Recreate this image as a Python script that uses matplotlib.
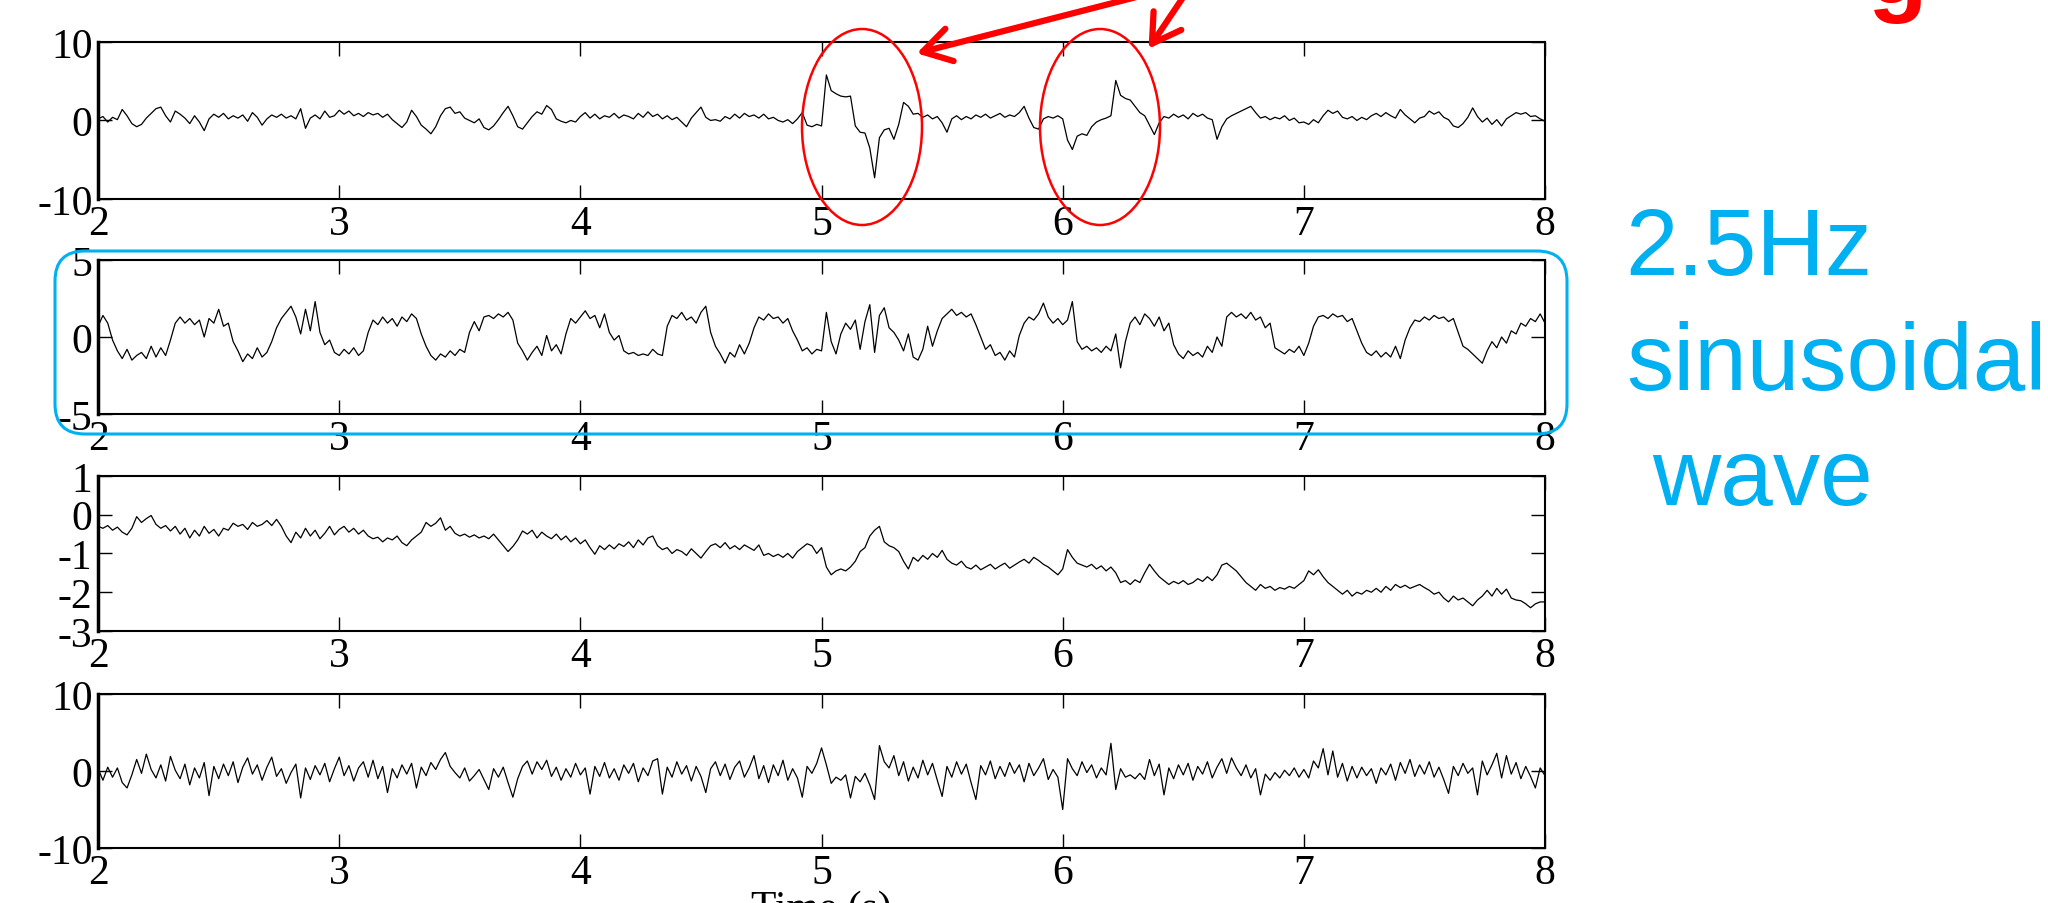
import matplotlib.pyplot as plt
import numpy as np
from matplotlib.patches import Ellipse, FancyBboxPatch, FancyArrowPatch

plt.rcParams['font.family'] = ['Liberation Serif', 'DejaVu Serif']
plt.rcParams['axes.unicode_minus'] = False

# samples every 0.02 s from t = 2 s to t = 8 s
t_start = 2.0
t_step = 0.02

sig1 = [
    0.2, 0.5, -0.2, 0.4, 0.1, 1.4, 0.6, -0.4, -0.8, -0.5, 0.3, 0.9, 1.5, 1.7, 0.6, -0.2, 1.2, 0.8, 0.3, -0.4, 0.6, -0.2, -1.3, 0.2, 0.8,
    0.4, 0.9, 0.2, 0.6, 0.3, 0.7, -0.1, 1.0, 0.4, -0.6, 0.2, 0.7, 0.4, 0.8, 0.3, 0.6, 0.2, 1.5, -1.0, 0.3, 0.7, 0.2, 1.2, 0.4, 0.6,
    1.3, 0.8, 1.2, 0.6, 0.9, 0.5, 1.0, 0.7, 0.9, 0.4, 0.8, 0.1, -0.4, -0.9, -0.2, 1.3, 0.5, -0.6, -1.1, -1.7, -0.8, 0.6, 1.5, 1.7, 0.9,
    1.1, 0.3, 0.0, -0.3, 0.2, -0.9, -1.2, -0.7, 0.1, 1.0, 1.8, 0.6, -0.8, -1.1, -0.3, 0.5, 1.1, 0.8, 1.9, 1.4, 0.2, -0.1, -0.3, 0.0, -0.2,
    0.5, 1.0, 0.3, 0.8, 0.2, 0.6, 0.4, 0.9, 0.3, 0.7, 0.5, 0.2, 0.9, 0.4, 1.1, 0.5, 0.8, 0.2, 0.6, 0.1, 0.4, -0.2, -0.8, 0.3, 1.0,
    1.7, 0.4, 0.0, 0.1, -0.1, 0.5, 0.2, 0.8, 0.3, 0.9, 0.5, 0.7, 0.3, 0.8, 0.2, 0.4, 0.0, -0.2, 0.1, -0.4, 0.2, 1.0, -0.6, -0.8, -0.5,
    -0.7, 5.8, 3.8, 3.4, 3.1, 3.0, 3.1, -0.7, -1.5, -1.6, -3.5, -7.3, -2.2, -1.2, -1.0, -2.4, -0.5, 2.3, 1.8, 0.8, 0.9, 0.4, 0.7, 0.2, 0.5,
    -0.3, -1.5, 0.2, 0.6, 0.1, 0.5, 0.2, 0.7, 0.4, 0.8, 0.3, 0.6, 0.9, 0.4, 0.7, 0.5, 1.0, 1.8, 0.3, -0.9, -1.1, 0.2, 0.5, 0.3, 0.6,
    0.2, -2.5, -3.7, -2.0, -1.7, -1.9, -0.8, -0.2, 0.1, 0.3, 0.6, 5.1, 3.2, 2.8, 2.6, 1.8, 1.0, 0.6, -0.6, -1.8, -0.3, 0.5, 0.3, 0.8, 0.4,
    0.7, 0.2, 0.9, 0.5, 0.8, 0.3, 0.1, -2.4, -0.8, 0.2, 0.6, 0.9, 1.2, 1.5, 1.8, 1.0, 0.3, 0.5, 0.1, 0.4, 0.2, 0.6, 0.0, 0.3, -0.3,
    -0.2, -0.5, 0.1, -0.3, 0.6, 1.3, 0.9, 1.2, 0.4, 0.2, 0.5, 0.0, 0.4, 0.1, 0.6, 0.9, 0.5, 1.0, 0.6, 0.3, 1.4, 0.7, 0.2, -0.3, 0.3,
    0.5, 1.2, 0.8, 1.1, 0.4, 0.1, -0.7, -0.9, -0.4, 0.4, 1.6, 0.5, -0.2, 0.3, -0.5, 0.1, -0.7, 0.2, 0.6, 1.0, 0.8, 1.0, 0.5, 0.6, 0.2,
    -0.1,
]

sig2 = [
    0.7, 1.4, 0.9, -0.2, -0.9, -1.4, -0.8, -1.5, -1.2, -1.0, -1.4, -0.6, -1.3, -0.7, -1.2, -0.2, 0.9, 1.3, 0.9, 1.2, 0.8, 1.1, 0.0, 1.2, 0.9,
    1.8, 0.7, 0.9, -0.3, -0.9, -1.6, -1.1, -1.4, -0.7, -1.3, -1.0, -0.3, 0.6, 1.2, 1.6, 2.0, 1.3, 0.2, 1.8, 0.4, 2.3, 0.3, -0.5, -0.2, -1.0,
    -1.2, -0.8, -1.1, -0.7, -1.2, -0.9, 0.3, 1.1, 0.8, 1.3, 0.9, 1.2, 0.7, 1.3, 1.0, 1.5, 1.2, 0.2, -0.6, -1.2, -1.5, -1.1, -1.3, -0.9, -1.2,
    -0.8, -1.0, 0.3, 1.0, 0.4, 1.3, 1.4, 1.2, 1.5, 1.3, 1.6, 1.1, -0.4, -0.9, -1.5, -1.0, -0.6, -1.2, 0.1, -0.9, -0.5, -1.1, 0.2, 1.2, 0.9,
    1.3, 1.7, 1.2, 1.4, 0.6, 1.5, 0.3, -0.2, 0.1, -0.9, -1.1, -1.0, -1.2, -1.1, -1.2, -0.8, -1.1, -1.2, 0.7, 1.4, 1.2, 1.6, 1.1, 1.3, 0.9,
    1.6, 2.0, 0.3, -0.6, -1.1, -1.7, -1.0, -1.3, -0.5, -1.1, -0.4, 0.6, 1.3, 1.1, 1.5, 1.2, 1.3, 0.9, 1.2, 0.4, -0.2, -0.9, -0.7, -1.1, -0.8,
    -0.9, 1.6, -0.3, -1.1, 0.2, 0.9, 0.5, 1.1, -0.8, 1.0, 2.1, -1.0, 1.4, 1.9, 0.6, 0.3, -0.2, -0.9, 0.2, -1.3, -1.5, -0.8, 0.7, -0.6, 0.4,
    1.2, 1.5, 1.8, 1.4, 1.6, 1.3, 1.5, 0.8, 0.0, -0.8, -0.5, -1.2, -1.0, -1.5, -0.9, -1.3, 0.1, 0.9, 1.3, 1.1, 1.5, 2.2, 1.3, 0.9, 1.2,
    0.8, 1.1, 2.3, -0.3, -0.8, -0.6, -0.9, -0.7, -1.0, -0.6, -0.9, 0.2, -2.0, -0.3, 0.9, 1.3, 0.8, 1.5, 1.2, 0.7, 1.3, 0.4, 0.9, -0.5, -1.1,
    -1.4, -0.9, -1.2, -1.0, -1.3, -0.6, -1.0, 0.0, -0.6, 1.3, 1.6, 1.3, 1.5, 1.2, 1.6, 1.1, 1.3, 0.6, 0.9, -0.7, -0.9, -1.1, -0.8, -1.0, -0.6,
    -1.2, -0.4, 0.7, 1.3, 1.4, 1.2, 1.5, 1.3, 1.4, 1.0, 1.2, 0.4, -0.4, -1.0, -1.2, -0.9, -1.3, -1.0, -1.3, -0.6, -1.4, -0.2, 0.6, 1.1, 1.0,
    1.3, 1.1, 1.4, 1.2, 1.3, 1.0, 1.2, 0.3, -0.6, -0.8, -1.1, -1.4, -1.7, -0.9, -0.3, -0.7, 0.0, -0.4, 0.4, 0.2, 0.9, 0.7, 1.2, 1.0, 1.5,
    0.9,
]

sig3 = [
    -0.30, -0.35, -0.28, -0.40, -0.32, -0.45, -0.52, -0.35, -0.05, -0.20, -0.10, -0.02, -0.25, -0.35, -0.28, -0.42, -0.30, -0.50, -0.35, -0.60, -0.40, -0.55, -0.30, -0.48, -0.38,
    -0.55, -0.35, -0.40, -0.22, -0.30, -0.25, -0.38, -0.20, -0.30, -0.25, -0.15, -0.28, -0.12, -0.30, -0.55, -0.72, -0.45, -0.60, -0.35, -0.55, -0.40, -0.62, -0.48, -0.30, -0.52,
    -0.38, -0.30, -0.45, -0.35, -0.50, -0.40, -0.55, -0.62, -0.58, -0.70, -0.60, -0.65, -0.55, -0.72, -0.80, -0.65, -0.55, -0.45, -0.20, -0.30, -0.22, -0.08, -0.40, -0.30, -0.48,
    -0.55, -0.50, -0.58, -0.52, -0.60, -0.55, -0.62, -0.50, -0.65, -0.80, -0.95, -0.82, -0.65, -0.42, -0.50, -0.40, -0.60, -0.45, -0.55, -0.62, -0.50, -0.65, -0.55, -0.70, -0.60,
    -0.75, -0.65, -0.85, -1.02, -0.80, -0.90, -0.78, -0.88, -0.75, -0.82, -0.70, -0.85, -0.65, -0.78, -0.60, -0.55, -0.80, -0.90, -0.85, -1.00, -0.90, -0.95, -1.05, -0.88, -1.00,
    -1.12, -0.95, -0.80, -0.75, -0.85, -0.72, -0.88, -0.80, -0.90, -0.78, -0.85, -0.92, -0.78, -1.05, -1.00, -1.08, -1.02, -1.10, -1.00, -1.12, -0.95, -0.85, -0.75, -0.80, -1.00,
    -0.85, -1.35, -1.55, -1.45, -1.40, -1.45, -1.35, -1.20, -0.95, -0.85, -0.55, -0.40, -0.30, -0.70, -0.80, -0.85, -0.95, -1.20, -1.40, -1.10, -1.20, -1.05, -1.15, -1.00, -1.10,
    -0.92, -1.15, -1.25, -1.30, -1.20, -1.35, -1.40, -1.30, -1.42, -1.35, -1.28, -1.40, -1.32, -1.25, -1.38, -1.30, -1.22, -1.15, -1.25, -1.10, -1.18, -1.28, -1.35, -1.45, -1.55,
    -1.40, -0.90, -1.10, -1.25, -1.30, -1.35, -1.28, -1.40, -1.32, -1.45, -1.35, -1.50, -1.75, -1.70, -1.80, -1.68, -1.75, -1.50, -1.28, -1.45, -1.60, -1.70, -1.80, -1.72, -1.78,
    -1.70, -1.80, -1.75, -1.65, -1.72, -1.60, -1.70, -1.55, -1.30, -1.25, -1.35, -1.45, -1.60, -1.75, -1.85, -1.95, -1.80, -1.90, -1.85, -1.95, -1.88, -1.92, -1.85, -1.90, -1.80,
    -1.70, -1.45, -1.55, -1.42, -1.60, -1.75, -1.85, -1.95, -2.05, -1.95, -2.10, -2.00, -2.05, -1.95, -2.00, -1.90, -2.00, -1.85, -1.95, -1.80, -1.88, -1.82, -1.90, -1.85, -1.80,
    -1.88, -1.95, -2.05, -2.00, -2.15, -2.25, -2.10, -2.20, -2.15, -2.25, -2.35, -2.20, -2.10, -1.95, -2.10, -1.90, -2.05, -1.92, -2.15, -2.20, -2.22, -2.30, -2.40, -2.30, -2.25,
    -2.25,
]

sig4 = [
    0.3, -1.2, 0.5, -0.8, 0.4, -1.5, -2.2, -0.5, 1.5, -0.3, 2.2, 0.2, -0.9, 0.8, -1.3, 1.9, 0.1, -1.0, 0.9, -1.8, 0.4, -0.9, 1.1, -3.2, 0.6,
    -1.0, 0.9, -0.6, 1.2, -1.5, 0.5, 1.7, -0.4, 0.8, -1.2, 0.5, 1.8, -0.7, 0.3, -1.6, -0.2, 0.9, -3.5, 0.4, -1.1, 0.7, -0.5, 1.0, -1.4, 0.3,
    1.8, -0.6, 0.7, -1.3, 0.4, 1.2, -0.8, 1.4, -1.0, 0.6, -2.8, 0.3, -0.9, 0.8, -0.4, 1.0, -2.2, 0.5, -0.6, 1.1, 0.2, 1.5, 2.4, 0.6, -0.2,
    -0.9, 0.4, -1.3, -0.6, 0.2, -1.1, -2.4, 0.3, -0.8, 0.5, -1.5, -3.4, -1.0, 0.6, 1.3, -0.4, 1.2, 0.2, 1.4, -0.7, 0.5, -1.2, 0.3, -0.8, 1.0,
    -0.5, 0.4, -3.0, 0.6, -0.7, 1.1, -0.9, 0.3, -1.2, 0.8, -0.3, 1.0, -1.4, 0.4, -0.6, 1.3, 1.6, -3.0, 0.5, -0.8, 1.2, -0.4, 0.7, -1.3, 0.6,
    -0.7, -2.8, 0.3, 1.2, -0.6, 0.9, -1.1, 0.5, 1.3, -0.8, 0.4, 2.0, -1.0, 0.7, -1.5, 0.8, -0.6, 1.4, -1.2, 0.3, -0.9, -3.4, 0.6, -0.3, 1.0,
    3.0, 0.8, -1.6, -0.8, -1.2, -0.5, -3.5, -0.7, -1.4, -0.3, -1.8, -3.7, 3.3, 1.2, 0.4, 2.0, -0.6, 1.2, -1.3, 0.5, -0.9, 1.4, -0.5, 1.0, -1.2,
    -3.3, 0.6, -0.8, 1.2, -0.4, 0.9, -1.5, -3.7, 0.7, -0.5, 1.3, -1.0, 0.6, -0.7, 1.1, -0.3, 0.8, -1.4, 1.0, -0.6, 0.4, 1.6, -1.1, 0.2, -0.8,
    -5.0, 1.6, 0.3, -0.6, 1.2, -0.2, 0.8, -0.9, 0.4, -0.5, 3.6, -2.4, 0.3, -0.8, -0.5, -1.0, -0.3, -1.1, 1.5, -0.6, 0.9, -3.1, 0.4, -1.0, 0.8,
    -0.5, 1.0, -1.2, 0.6, -0.4, 1.2, -0.9, 0.5, 1.6, -0.3, 1.7, 0.4, -0.6, 0.8, -0.9, 0.3, -3.1, -0.4, -1.2, -0.2, -0.9, 0.1, -0.6, 0.4, -0.8,
    0.2, -0.9, 1.3, 0.4, 2.9, -0.5, 2.6, -0.8, 1.0, -1.3, 0.6, -0.9, 0.5, -0.6, 0.3, -1.6, 0.4, -0.5, 0.9, -1.2, 1.1, -0.3, 1.5, -0.7, 0.8,
    -0.4, 1.2, -0.8, 0.5, -1.1, -2.9, 0.6, -0.6, 1.0, -0.3, 0.4, -3.1, 1.3, -0.5, 0.8, 2.3, -0.9, 2.0, -0.4, 1.1, -1.0, 0.6, -0.7, -2.2, 0.4,
    -0.6,
]

signals = [sig1, sig2, sig3, sig4]
ylims = [(-10, 10), (-5, 5), (-3, 1), (-10, 10)]
yticks = [[-10, 0, 10], [-5, 0, 5], [-3, -2, -1, 0, 1], [-10, 0, 10]]
xticks = [2, 3, 4, 5, 6, 7, 8]

fig = plt.figure(figsize=(20.48, 9.04), dpi=100)

# axes boxes in figure fraction (bottom, height)
boxes = [(0.7788, 0.1737), (0.5409, 0.1704), (0.3009, 0.1715), (0.0608, 0.1704)]
axes = []
for i in range(4):
    ax = fig.add_axes([0.0479, boxes[i][0], 0.7065, boxes[i][1]])
    t = t_start + t_step * np.arange(len(signals[i]))
    ax.plot(t, signals[i], color='black', lw=0.9)
    ax.set_xlim(2, 8)
    ax.set_ylim(ylims[i])
    ax.set_xticks(xticks)
    ax.set_yticks(yticks[i])
    ax.tick_params(direction='in', top=True, right=True, length=10, width=1,
                   labelsize=30, pad=4)
    for s in ['top', 'right', 'bottom']:
        ax.spines[s].set_linewidth(1.5)
    ax.spines['left'].set_linewidth(2.5)
    axes.append(ax)

axes[3].set_xlabel('Time (s)', fontsize=30, labelpad=-2)

tr = fig.dpi_scale_trans

# red ellipses around the two artifacts in the first trace
for cx in [8.62, 11.0]:
    fig.patches.append(Ellipse((cx, 7.76), 1.2, 1.96, transform=tr, fill=False,
                               edgecolor='red', lw=1.8))

# red arrows coming from the (cut off) label above
for tail, head in [((11.52, 9.10), (9.14, 8.49)), ((11.88, 9.13), (11.47, 8.52))]:
    fig.patches.append(FancyArrowPatch(tail, head, transform=tr, arrowstyle='->,head_length=0.5,head_width=0.3',
                                       mutation_scale=40, color='red', lw=4.5))
fig.text(18.68, 9.0, 'g', transform=tr, color='red', fontsize=70, fontweight='bold',
         family=['Liberation Sans', 'DejaVu Sans'], ha='left', va='baseline')

# blue rounded box around the second trace
fig.patches.append(FancyBboxPatch((0.55, 4.69), 15.12, 1.83, boxstyle='round,pad=0,rounding_size=0.3',
                                  transform=tr, fill=False, edgecolor='#00B0F0', lw=2.2))

blue_font = ['Liberation Sans', 'DejaVu Sans']
fig.text(16.25, 6.29, '2.5Hz', transform=tr, color='#00B0F0', fontsize=68, family=blue_font, va='baseline')
fig.text(16.26, 5.14, 'sinusoidal', transform=tr, color='#00B0F0', fontsize=68, family=blue_font, va='baseline')
fig.text(16.52, 3.99, 'wave', transform=tr, color='#00B0F0', fontsize=68, family=blue_font, va='baseline')

fig.savefig('out.png', dpi=100)
